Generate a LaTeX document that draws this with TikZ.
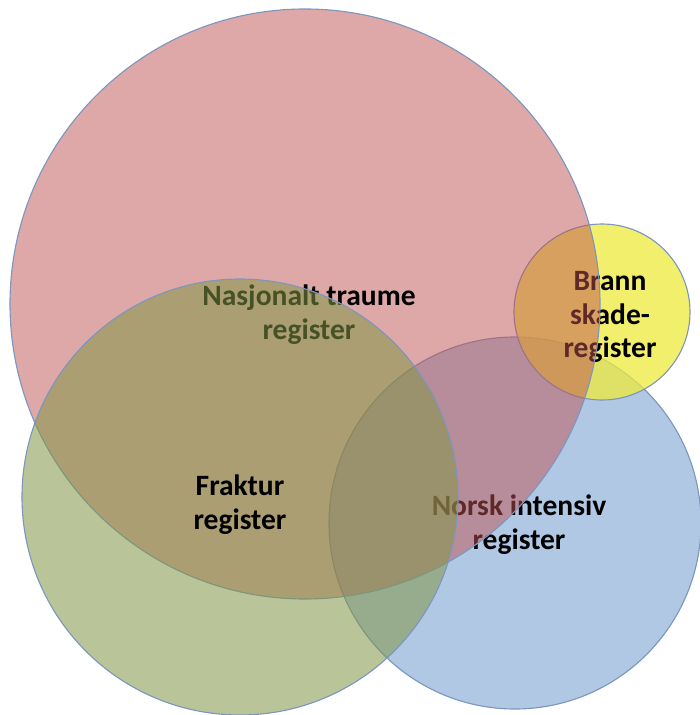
\documentclass[tikz,border=0pt]{standalone}
\usepackage{fontspec}
\setmainfont{Carlito}
\usepackage{tikz}
\usetikzlibrary{positioning}
\definecolor{trauma}{RGB}{190,82,82}
\definecolor{frakt}{RGB}{128,150,70}
\definecolor{intens}{RGB}{80,132,196}
\definecolor{brann}{RGB}{238,234,60}
\definecolor{rim}{RGB}{125,150,190}

\begin{document}
\begin{tikzpicture}[x=0.025cm,y=-0.025cm,font=\fontsize{21}{24}\selectfont\bfseries]
  \useasboundingbox (0,0) rectangle (699,715);
  % intensiv
  \draw[rim,line width=0.8pt,fill=intens,fill opacity=0.45] (515,523) circle (186);
  \node[align=center] (nir) at (519,525) {Norsk intensiv\\register};
  % brannskade
  \draw[rim,line width=0.8pt,fill=brann,fill opacity=0.75] (602,312) circle (88);
  \node[align=center] (brn) at (610,317) {Brann\\skade-\\register};
  % traume
  \draw[rim,line width=0.8pt,fill=trauma,fill opacity=0.5] (305,304) circle (295);
  \node[align=center] (ntr) at (309,315) {Nasjonalt traume\\register};
  % fraktur
  \draw[rim,line width=0.8pt,fill=frakt,fill opacity=0.55] (240,497) circle (218);
  \node[align=center] (frk) at (240,505) {Fraktur\\register};
\end{tikzpicture}
\end{document}
